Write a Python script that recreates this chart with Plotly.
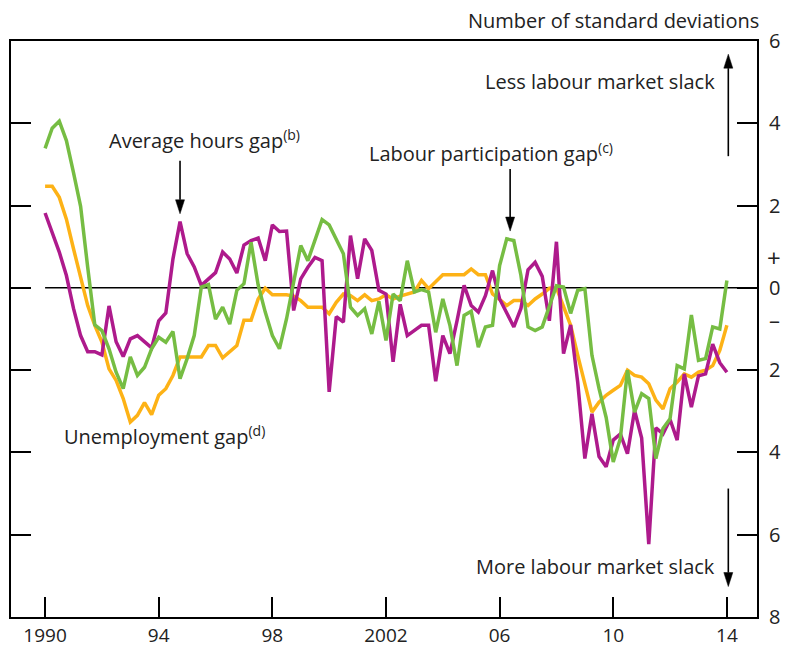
import plotly.graph_objects as go

years = [1990 + i / 4 for i in range(97)]

average_hours = [
    1.82, 1.36, 0.87, 0.30,
    -0.50, -1.16, -1.55, -1.55,
    -1.63, -0.44, -1.31, -1.67,
    -1.24, -1.16, -1.31, -1.46,
    -0.80, -0.61, 0.70, 1.61,
    0.83, 0.51, 0.06, 0.22,
    0.37, 0.87, 0.70, 0.36,
    1.04, 1.15, 1.21, 0.66,
    1.53, 1.37, 1.38, -0.55,
    0.22, 0.50, 0.74, 0.66,
    -2.53, -0.70, -0.83, 1.27,
    0.22, 1.19, 0.91, -0.06,
    -0.15, -1.80, -0.40, -1.16,
    -1.04, -0.91, -0.91, -2.27,
    -1.16, -1.60, -0.80, 0.06,
    -0.43, -0.59, -0.19, 0.42,
    -0.27, -0.63, -0.95, -0.50,
    0.44, 0.62, 0.28, -0.80,
    1.12, -1.60, -0.90, -2.30,
    -4.15, -3.06, -4.10, -4.35,
    -3.70, -3.55, -4.03, -2.98,
    -3.65, -6.23, -3.40, -3.55,
    -3.20, -3.70, -2.09, -2.90,
    -2.14, -2.09, -1.37, -1.82,
    -2.05,
]

participation = [
    3.39, 3.88, 4.05, 3.58,
    2.80, 1.98, 0.50, -0.90,
    -1.04, -1.48, -2.05, -2.45,
    -1.68, -2.13, -1.93, -1.48,
    -1.20, -1.32, -1.06, -2.21,
    -1.72, -1.16, 0.02, 0.08,
    -0.76, -0.47, -0.88, -0.06,
    0.10, 1.11, 0.07, -0.59,
    -1.16, -1.48, -0.75, 0.10,
    1.03, 0.66, 1.15, 1.66,
    1.53, 1.19, 0.83, -0.47,
    -0.67, -0.51, -1.12, -0.33,
    -1.28, -0.15, -0.31, 0.66,
    -0.10, -0.04, -0.10, -1.08,
    -0.27, -0.91, -1.89, -0.67,
    -0.57, -1.44, -0.95, -0.91,
    0.54, 1.19, 1.15, 0.30,
    -0.95, -1.04, -0.95, -0.45,
    0.05, 0.02, -0.62, -0.06,
    -0.02, -1.64, -2.45, -3.15,
    -4.23, -3.66, -2.00, -3.02,
    -2.57, -2.69, -4.15, -3.42,
    -3.18, -1.89, -1.97, -0.66,
    -1.76, -1.72, -0.95, -1.00,
    0.18,
]

unemployment = [
    2.47, 2.47, 2.20, 1.67,
    0.95, 0.22, -0.43, -0.91,
    -1.32, -1.97, -2.25, -2.69,
    -3.26, -3.10, -2.79, -3.08,
    -2.61, -2.45, -2.13, -1.68,
    -1.68, -1.68, -1.68, -1.40,
    -1.40, -1.70, -1.55, -1.40,
    -0.79, -0.79, -0.27, -0.01,
    -0.17, -0.17, -0.17, -0.20,
    -0.31, -0.47, -0.47, -0.47,
    -0.63, -0.35, -0.15, -0.19,
    -0.31, -0.17, -0.31, -0.27,
    -0.17, -0.27, -0.20, -0.15,
    -0.10, 0.18, -0.02, 0.15,
    0.32, 0.32, 0.32, 0.32,
    0.46, 0.32, 0.32, -0.15,
    -0.28, -0.43, -0.31, -0.31,
    -0.43, -0.27, -0.15, -0.01,
    0.00, -0.43, -0.91, -1.64,
    -2.37, -3.02, -2.78, -2.61,
    -2.49, -2.37, -2.00, -2.13,
    -2.17, -2.33, -2.73, -2.94,
    -2.45, -2.29, -2.09, -2.17,
    -2.05, -2.00, -1.89, -1.52,
    -0.91,
]

x_tick_vals = [1990, 1994, 1998, 2002, 2006, 2010, 2014]
x_tick_text = ["1990", "94", "98", "2002", "06", "10", "14"]
y_tick_vals = [6, 4, 2, 0, -2, -4, -6, -8]
y_tick_text = ["6", "4", "2", "0", "2", "4", "6", "8"]

ORANGE = "#FDB216"
GREEN = "#76BD43"
MAGENTA = "#AE1A8C"
TEXT = "#222222"
FONT = "Open Sans"
FS = 20

X_RANGE = [1988.8, 2015.06]
Y_RANGE = [-8, 6]
PLOT_W = 746.0
PLOT_H = 576.0
PX_PER_YEAR = PLOT_W / (X_RANGE[1] - X_RANGE[0])
PX_PER_UNIT = PLOT_H / (Y_RANGE[1] - Y_RANGE[0])

fig = go.Figure()
fig.add_trace(go.Scatter(x=years, y=unemployment, mode="lines",
                         line=dict(color=ORANGE, width=3.5), name="Unemployment gap"))
fig.add_trace(go.Scatter(x=years, y=average_hours, mode="lines",
                         line=dict(color=MAGENTA, width=3.5), name="Average hours gap"))
fig.add_trace(go.Scatter(x=years, y=participation, mode="lines",
                         line=dict(color=GREEN, width=3.5), name="Labour participation gap"))

fig.add_shape(type="line", xref="x", yref="y", x0=1990, x1=X_RANGE[1], y0=0, y1=0,
              line=dict(color="black", width=1.5), layer="below")


def add_arrow(x, y_head, tail_px):
    """Vertical arrow: head at (x, y_head); tail offset tail_px pixels (negative = above)."""
    y_tail = y_head - tail_px / PX_PER_UNIT
    direction = 1 if y_tail > y_head else -1
    head_len = 14 / PX_PER_UNIT
    half_w = 4.5 / PX_PER_YEAR
    y_base = y_head + direction * head_len
    fig.add_shape(type="line", xref="x", yref="y", x0=x, x1=x, y0=y_tail, y1=y_base,
                  line=dict(color="black", width=1.6))
    fig.add_shape(type="path", xref="x", yref="y",
                  path=f"M {x - half_w} {y_base} L {x + half_w} {y_base} L {x} {y_head} Z",
                  fillcolor="black", line=dict(color="black", width=0.5))


add_arrow(1994.75, 1.8, -53)
add_arrow(2006.37, 1.38, -62)
add_arrow(2014.05, 5.68, 102)
add_arrow(2014.05, -7.26, -98)

annotations = [
    dict(x=1992.18, y=3.6, xref="x", yref="y", text="Average hours gap<sup>(b)</sup>",
         showarrow=False, xanchor="left", yanchor="middle"),
    dict(x=2001.34, y=3.3, xref="x", yref="y", text="Labour participation gap<sup>(c)</sup>",
         showarrow=False, xanchor="left", yanchor="middle"),
    dict(x=1990.6, y=-3.6, xref="x", yref="y", text="Unemployment gap<sup>(d)</sup>",
         showarrow=False, xanchor="left", yanchor="middle"),
    dict(x=2013.66, y=5.02, xref="x", yref="y", text="Less labour market slack",
         showarrow=False, xanchor="right", yanchor="middle"),
    dict(x=2013.66, y=-6.77, xref="x", yref="y", text="More labour market slack",
         showarrow=False, xanchor="right", yanchor="middle"),
    dict(x=1, y=1.036, xref="paper", yref="paper", text="Number of standard deviations",
         showarrow=False, xanchor="right", yanchor="middle", xshift=4),
    dict(x=1, y=0.75, xref="paper", yref="y", text="+", showarrow=False,
         xanchor="center", yanchor="middle", xshift=17, font=dict(size=24)),
    dict(x=1, y=-0.75, xref="paper", yref="y", text="\u2013", showarrow=False,
         xanchor="center", yanchor="middle", xshift=17, font=dict(size=22)),
]
fig.update_layout(annotations=annotations)

fig.update_layout(
    width=785, height=648,
    margin=dict(l=11, r=28, t=41, b=31, autoexpand=False),
    paper_bgcolor="white", plot_bgcolor="white",
    showlegend=False,
    font=dict(family=FONT, size=FS, color=TEXT),
    xaxis=dict(range=X_RANGE, tickvals=x_tick_vals, ticktext=x_tick_text,
               ticks="inside", ticklen=20, tickwidth=1.5, tickcolor="black",
               showline=True, linecolor="black", linewidth=2, mirror=True,
               showgrid=False, zeroline=False, fixedrange=True, automargin=False,
               ticklabelstandoff=0,
               tickfont=dict(size=19, family=FONT, color=TEXT)),
    yaxis=dict(range=Y_RANGE, side="right", tickvals=y_tick_vals, ticktext=y_tick_text,
               ticks="inside", ticklen=20, tickwidth=1.5, tickcolor="black",
               showline=True, linecolor="black", linewidth=2, mirror="ticks",
               showgrid=False, zeroline=False, fixedrange=True, automargin=False,
               ticklabelstandoff=6,
               tickfont=dict(size=FS, family=FONT, color=TEXT)),
)

fig.write_html(
    "out.html",
    config={"displayModeBar": False},
    post_script="document.body.style.margin='0';document.body.style.overflow='hidden';",
)
